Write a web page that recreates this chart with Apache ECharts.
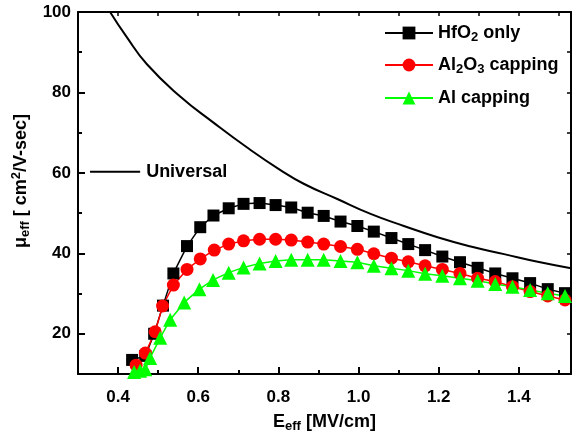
<!DOCTYPE html>
<html>
<head>
<meta charset="utf-8">
<script src="https://cdn.jsdelivr.net/npm/echarts@6/dist/echarts.min.js"></script>
<style>
  html, body { margin: 0; padding: 0; background: #fff; }
  #chart { width: 573px; height: 439px; }
</style>
</head>
<body>
<div id="chart"></div>
<script>
// E_eff [MV/cm] and mobility values
var hfoX = [0.435, 0.468, 0.49, 0.512, 0.538, 0.572, 0.605, 0.638, 0.676, 0.713, 0.753, 0.793, 0.832, 0.873, 0.913, 0.955, 0.997, 1.038, 1.082, 1.124, 1.166, 1.209, 1.253, 1.297, 1.341, 1.384, 1.428, 1.472, 1.515];
var hfoY = [13.5, 14.5, 20.0, 27.0, 35.0, 41.8, 46.5, 49.4, 51.2, 52.3, 52.5, 52.0, 51.4, 50.1, 49.3, 47.9, 46.8, 45.4, 43.8, 42.3, 40.8, 39.2, 37.8, 36.4, 35.0, 33.8, 32.6, 31.1, 30.1];

var al2o3X = [0.445, 0.468, 0.4925, 0.511, 0.538, 0.572, 0.605, 0.64, 0.676, 0.713, 0.753, 0.793, 0.832, 0.873, 0.913, 0.955, 0.997, 1.038, 1.082, 1.124, 1.166, 1.209, 1.253, 1.297, 1.341, 1.384, 1.428, 1.472, 1.515];
var al2o3Y = [12.2, 15.2, 20.5, 26.9, 32.1, 36.0, 38.6, 40.8, 42.3, 43.1, 43.5, 43.5, 43.3, 42.8, 42.3, 41.7, 41.0, 39.9, 38.8, 37.9, 36.9, 36.0, 35.0, 33.8, 33.0, 31.7, 30.5, 29.4, 28.4];

var alX = [0.44, 0.455, 0.468, 0.48, 0.505, 0.53, 0.565, 0.603, 0.637, 0.676, 0.713, 0.753, 0.793, 0.832, 0.873, 0.913, 0.955, 0.997, 1.038, 1.082, 1.124, 1.166, 1.209, 1.253, 1.297, 1.341, 1.384, 1.428, 1.472, 1.515];
var alY = [10.5, 10.8, 11.2, 14.0, 19.0, 23.5, 27.8, 31.1, 33.4, 35.2, 36.5, 37.5, 38.1, 38.4, 38.4, 38.4, 38.1, 37.8, 36.9, 36.3, 35.7, 34.9, 34.4, 33.8, 33.2, 32.4, 31.7, 30.9, 30.1, 29.4];

var univX = [0.38, 0.42, 0.472, 0.555, 0.638, 0.722, 0.805, 0.863, 0.947, 1.03, 1.113, 1.197, 1.28, 1.363, 1.447, 1.53];
var univY = [100, 94.0, 87.0, 79.0, 72.5, 66.3, 60.7, 57.3, 53.5, 49.8, 46.8, 44.0, 41.7, 39.8, 37.9, 36.3];

var keyX = [0.33, 0.455];
var keyY = [60.3, 60.3];

var xLabels = [0.4, 0.6, 0.8, 1.0, 1.2, 1.4];
var yLabels = [20, 40, 60, 80, 100];

function pairs(xs, ys) {
  return xs.map(function (x, i) { return [x, ys[i]]; });
}

var font = 'Liberation Sans';
var rich = {
  sub: { fontSize: 13, fontWeight: 'bold', fontFamily: font, lineHeight: 6, verticalAlign: 'bottom' },
  sup: { fontSize: 13, fontWeight: 'bold', fontFamily: font, lineHeight: 6, verticalAlign: 'top' }
};
var legendText = {
  'HfO2 only': 'HfO{sub|2} only',
  'Al2O3 capping': 'Al{sub|2}O{sub|3} capping',
  'Al capping': 'Al capping'
};

function makeLegend(name, top) {
  return {
    data: [name],
    left: 384,
    top: top,
    padding: 0,
    itemWidth: 48,
    itemHeight: 16,
    selectedMode: false,
    formatter: function (n) { return legendText[n]; },
    textStyle: { fontSize: 18, fontWeight: 'bold', fontFamily: font, color: '#000', lineHeight: 22, rich: rich }
  };
}

var myChart = echarts.init(document.getElementById('chart'));
var axisLine = { show: true, lineStyle: { color: '#000', width: 2 } };

var option = {
  animation: false,
  backgroundColor: '#fff',
  grid: { left: 78, right: 2, top: 12, bottom: 65 },
  legend: [
    makeLegend('HfO2 only', 22),
    makeLegend('Al2O3 capping', 54),
    makeLegend('Al capping', 87)
  ],
  xAxis: [
    {
      type: 'value', position: 'bottom', min: 0.3, max: 1.53, interval: 0.1,
      axisLine: axisLine,
      axisTick: { inside: true, length: 4, lineStyle: { color: '#000', width: 2 } },
      axisLabel: {
        customValues: xLabels, margin: 15, color: '#000',
        fontSize: 17, fontWeight: 'bold', fontFamily: font,
        formatter: function (v) { return v.toFixed(1); }
      },
      splitLine: { show: false },
      name: 'E{sub|eff} [MV/cm]', nameLocation: 'middle', nameGap: 30,
      nameTextStyle: { fontSize: 18, fontWeight: 'bold', fontFamily: font, color: '#000', lineHeight: 22, rich: rich }
    },
    {
      type: 'value', position: 'bottom', min: 0.3, max: 1.53,
      axisLine: { show: false },
      axisTick: { show: true, inside: true, length: 7, customValues: xLabels, lineStyle: { color: '#000', width: 2 } },
      axisLabel: { show: false },
      splitLine: { show: false }
    },
    {
      type: 'value', position: 'top', min: 0.3, max: 1.53, interval: 0.1,
      axisLine: axisLine,
      axisTick: { inside: true, length: 4, lineStyle: { color: '#000', width: 1.5 } },
      axisLabel: { show: false },
      splitLine: { show: false }
    }
  ],
  yAxis: [
    {
      type: 'value', position: 'left', min: 10, max: 100, interval: 10,
      axisLine: axisLine,
      axisTick: { inside: true, length: 4, lineStyle: { color: '#000', width: 2 } },
      axisLabel: {
        customValues: yLabels, margin: 7, color: '#000',
        fontSize: 17, fontWeight: 'bold', fontFamily: font
      },
      splitLine: { show: false },
      name: '\u03bc{sub|eff} [ cm{sup|2}/V-sec]', nameLocation: 'middle', nameGap: 45,
      nameTextStyle: { fontSize: 18, fontWeight: 'bold', fontFamily: font, color: '#000', lineHeight: 22, padding: [0, 0, 0, 24], rich: rich }
    },
    {
      type: 'value', position: 'left', min: 10, max: 100,
      axisLine: { show: false },
      axisTick: { show: true, inside: true, length: 7, customValues: yLabels, lineStyle: { color: '#000', width: 2 } },
      axisLabel: { show: false },
      splitLine: { show: false }
    },
    {
      type: 'value', position: 'right', min: 10, max: 100, interval: 10,
      axisLine: axisLine,
      axisTick: { inside: true, length: 4, lineStyle: { color: '#000', width: 1.5 } },
      axisLabel: { show: false },
      splitLine: { show: false }
    }
  ],
  series: [
    {
      name: 'Universal', type: 'line', smooth: true, showSymbol: false,
      lineStyle: { color: '#000', width: 2 },
      data: pairs(univX, univY)
    },
    {
      name: 'UniversalKey', type: 'line', showSymbol: false,
      lineStyle: { color: '#000', width: 2 },
      endLabel: {
        show: true, formatter: 'Universal', distance: 6, color: '#000',
        fontSize: 18, fontWeight: 'bold', fontFamily: font
      },
      data: pairs(keyX, keyY)
    },
    {
      name: 'HfO2 only', type: 'line', symbol: 'rect', symbolSize: 12,
      color: '#000', lineStyle: { color: '#000', width: 1.5 },
      data: pairs(hfoX, hfoY)
    },
    {
      name: 'Al2O3 capping', type: 'line', symbol: 'circle', symbolSize: 13,
      color: '#ff0000', lineStyle: { color: '#ff0000', width: 1.5 },
      data: pairs(al2o3X, al2o3Y)
    },
    {
      name: 'Al capping', type: 'line', symbol: 'triangle', symbolSize: 14,
      color: '#00ff00', lineStyle: { color: '#00ff00', width: 1.5 },
      data: pairs(alX, alY)
    }
  ]
};
myChart.setOption(option);
</script>
</body>
</html>
